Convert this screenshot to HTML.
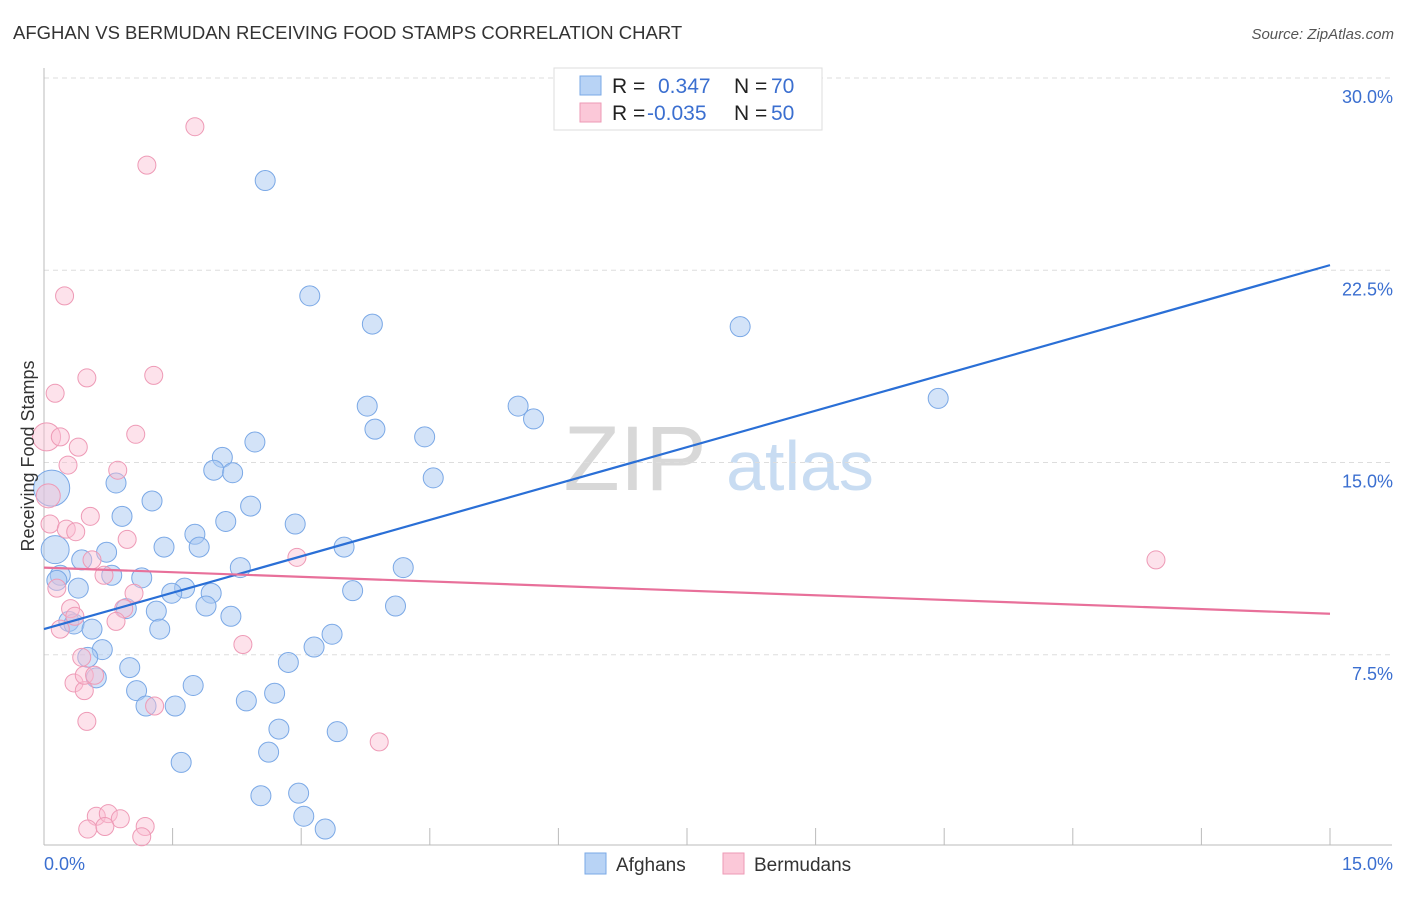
<!DOCTYPE html>
<html><head><meta charset="utf-8"><style>
body{margin:0;background:#fff;font-family:"Liberation Sans",sans-serif;}
svg text{font-family:"Liberation Sans",sans-serif;}
</style></head><body>
<svg id="chart" width="1406" height="892" viewBox="0 0 1406 892" xmlns="http://www.w3.org/2000/svg">
<text x="13" y="39" font-size="18.5" fill="#333">AFGHAN VS BERMUDAN RECEIVING FOOD STAMPS CORRELATION CHART</text>
<text x="1394" y="39" font-size="15" fill="#555" font-style="italic" text-anchor="end">Source: ZipAtlas.com</text>
<g>
<text x="635" y="490" font-size="92" fill="#d8d8d8" font-family="Liberation Serif" text-anchor="middle">ZIP</text>
<text x="800" y="490" font-size="70" fill="#c8dcf2" text-anchor="middle">atlas</text>
</g>
<g id="grid"></g>
<g id="axes"></g>
<g id="pts"></g>
<g id="trends"></g>
<text transform="translate(34,456) rotate(-90)" font-size="18" fill="#333" text-anchor="middle">Receiving Food Stamps</text>
<g>
<rect x="554" y="68" width="268" height="62" fill="#fff" stroke="#ddd"/>
<rect x="580" y="76" width="21" height="19" fill="#b8d3f5" stroke="#7aa8e6"/>
<rect x="580" y="103" width="21" height="19" fill="#fbc8d8" stroke="#ee9ab6"/>
<text x="612" y="93" font-size="21" fill="#222">R =</text>
<text x="658" y="93" font-size="21" fill="#3b6fd0">0.347</text>
<text x="734" y="93" font-size="21" fill="#222">N =</text>
<text x="771" y="93" font-size="21" fill="#3b6fd0">70</text>
<text x="612" y="120" font-size="21" fill="#222">R =</text>
<text x="647" y="120" font-size="21" fill="#3b6fd0">-0.035</text>
<text x="734" y="120" font-size="21" fill="#222">N =</text>
<text x="771" y="120" font-size="21" fill="#3b6fd0">50</text>
</g>
<g>
<rect x="585" y="853" width="21" height="21" fill="#b8d3f5" stroke="#7aa8e6"/>
<text x="616" y="871" font-size="19" fill="#333">Afghans</text>
<rect x="723" y="853" width="21" height="21" fill="#fbc8d8" stroke="#ee9ab6"/>
<text x="754" y="871" font-size="19" fill="#333">Bermudans</text>
</g>
</svg>
<script>
const yTicks=[7.5,15,22.5,30];
const yTickLabels=["7.5%","15.0%","22.5%","30.0%"];
const xTickLabels=["0.0%","15.0%"];
const blueX=[2.58,3.10,3.83,8.12,10.43,3.77,5.53,5.71,3.86,4.44,2.46,2.08,1.98,2.20,4.54,0.84,1.26,2.41,0.91,2.12,2.93,1.76,1.81,1.40,3.50,0.73,0.44,4.19,2.29,0.19,0.79,1.14,0.15,1.64,0.40,1.49,1.95,3.60,0.96,1.31,1.89,4.10,2.18,0.29,0.35,0.56,1.35,3.36,3.15,0.68,0.51,2.85,1.00,0.61,1.74,1.08,2.69,2.36,1.53,1.19,2.74,3.42,2.62,1.60,2.53,2.97,3.03,3.28,0.09,0.13];
const blueY=[26.0,21.5,20.4,20.3,17.5,17.2,17.2,16.7,16.3,16.0,15.8,15.2,14.7,14.6,14.4,14.2,13.5,13.3,12.9,12.7,12.6,12.2,11.7,11.7,11.7,11.5,11.2,10.9,10.9,10.6,10.6,10.5,10.4,10.1,10.1,9.9,9.9,10.0,9.3,9.2,9.4,9.4,9.0,8.8,8.7,8.5,8.5,8.3,7.8,7.7,7.4,7.2,7.0,6.6,6.3,6.1,6.0,5.7,5.5,5.5,4.6,4.5,3.7,3.3,2.0,2.1,1.2,0.7,14.0,11.6];
const blueR=[10,10,10,10,10,10,10,10,10,10,10,10,10,10,10,10,10,10,10,10,10,10,10,10,10,10,10,10,10,10,10,10,10,10,10,10,10,10,10,10,10,10,10,10,10,10,10,10,10,10,10,10,10,10,10,10,10,10,10,10,10,10,10,10,10,10,10,10,18,14];
const pinkX=[1.76,1.20,0.24,0.50,1.28,0.13,1.07,0.03,0.19,0.40,0.28,0.86,0.05,0.54,0.07,0.26,0.37,0.97,0.56,2.95,0.70,0.15,1.05,0.31,0.36,0.93,0.84,0.19,2.32,0.44,0.35,0.47,0.47,0.59,1.29,0.50,3.91,0.61,0.75,0.89,0.51,0.71,1.18,1.14,12.97];
const pinkY=[28.1,26.6,21.5,18.3,18.4,17.7,16.1,16.0,16.0,15.6,14.9,14.7,13.7,12.9,12.6,12.4,12.3,12.0,11.2,11.3,10.6,10.1,9.9,9.3,9.0,9.3,8.8,8.5,7.9,7.4,6.4,6.1,6.7,6.7,5.5,4.9,4.1,1.2,1.3,1.1,0.7,0.8,0.8,0.4,11.2];
const pinkR=[9,9,9,9,9,9,9,14,9,9,9,9,12,9,9,9,9,9,9,9,9,9,9,9,9,9,9,9,9,9,9,9,9,9,9,9,9,9,9,9,9,9,9,9,9];
const blueTrend=[8.5,22.7];
const pinkTrend=[10.9,9.1];
const X0=44,X1=1330,Y0=847,YS=769/30;
const sx=v=>X0+(X1-X0)*v/15;
const sy=v=>Y0-v*YS;
const NS="http://www.w3.org/2000/svg";
function mk(tag,parent,attrs){const e=document.createElementNS(NS,tag);for(const k in attrs)e.setAttribute(k,attrs[k]);document.getElementById(parent).appendChild(e);return e;}
yTicks.forEach((t,i)=>{
 const g=mk('line','grid',{x1:X0,x2:1392,y1:sy(t),y2:sy(t),stroke:'#ddd','stroke-dasharray':'5,4'});
 
 
 const l=mk('text','grid',{x:1393,y:sy(t)+25,'font-size':18,fill:'#3b6fd0','text-anchor':'end'});
 l.textContent=yTickLabels[i];
 
 
});
const ax=mk('line','axes',{x1:X0,x2:X0,y1:68,y2:845,stroke:'#bbb'});


const bx=mk('line','axes',{x1:X0,x2:1392,y1:845,y2:845,stroke:'#bbb'});


for(let i=0;i<=10;i++){
 const t=mk('line','axes',{x1:sx(i*1.5),x2:sx(i*1.5),y1:828,y2:845,stroke:'#bbb'});
 
 
}
const xl0=mk('text','axes',{x:44,y:870,'font-size':18,fill:'#3b6fd0'});
xl0.textContent=xTickLabels[0];


const xl1=mk('text','axes',{x:1393,y:870,'font-size':18,fill:'#3b6fd0','text-anchor':'end'});
xl1.textContent=xTickLabels[1];


blueX.forEach((v,i)=>{
 const c=mk('circle','pts',{cx:sx(v),cy:sy(blueY[i]),r:blueR[i],fill:'rgba(168,200,242,0.5)',stroke:'#7aa8e6','stroke-width':1});
 
 
});
pinkX.forEach((v,i)=>{
 const c=mk('circle','pts',{cx:sx(v),cy:sy(pinkY[i]),r:pinkR[i],fill:'rgba(250,190,210,0.45)',stroke:'#ee9ab6','stroke-width':1});
 
 
});
const bt=mk('line','trends',{x1:sx(0),y1:sy(blueTrend[0]),x2:sx(15),y2:sy(blueTrend[1]),stroke:'#2a6fd6','stroke-width':2.2});


const pt=mk('line','trends',{x1:sx(0),y1:sy(pinkTrend[0]),x2:sx(15),y2:sy(pinkTrend[1]),stroke:'#e8709a','stroke-width':2.2});


</script>
</body></html>
